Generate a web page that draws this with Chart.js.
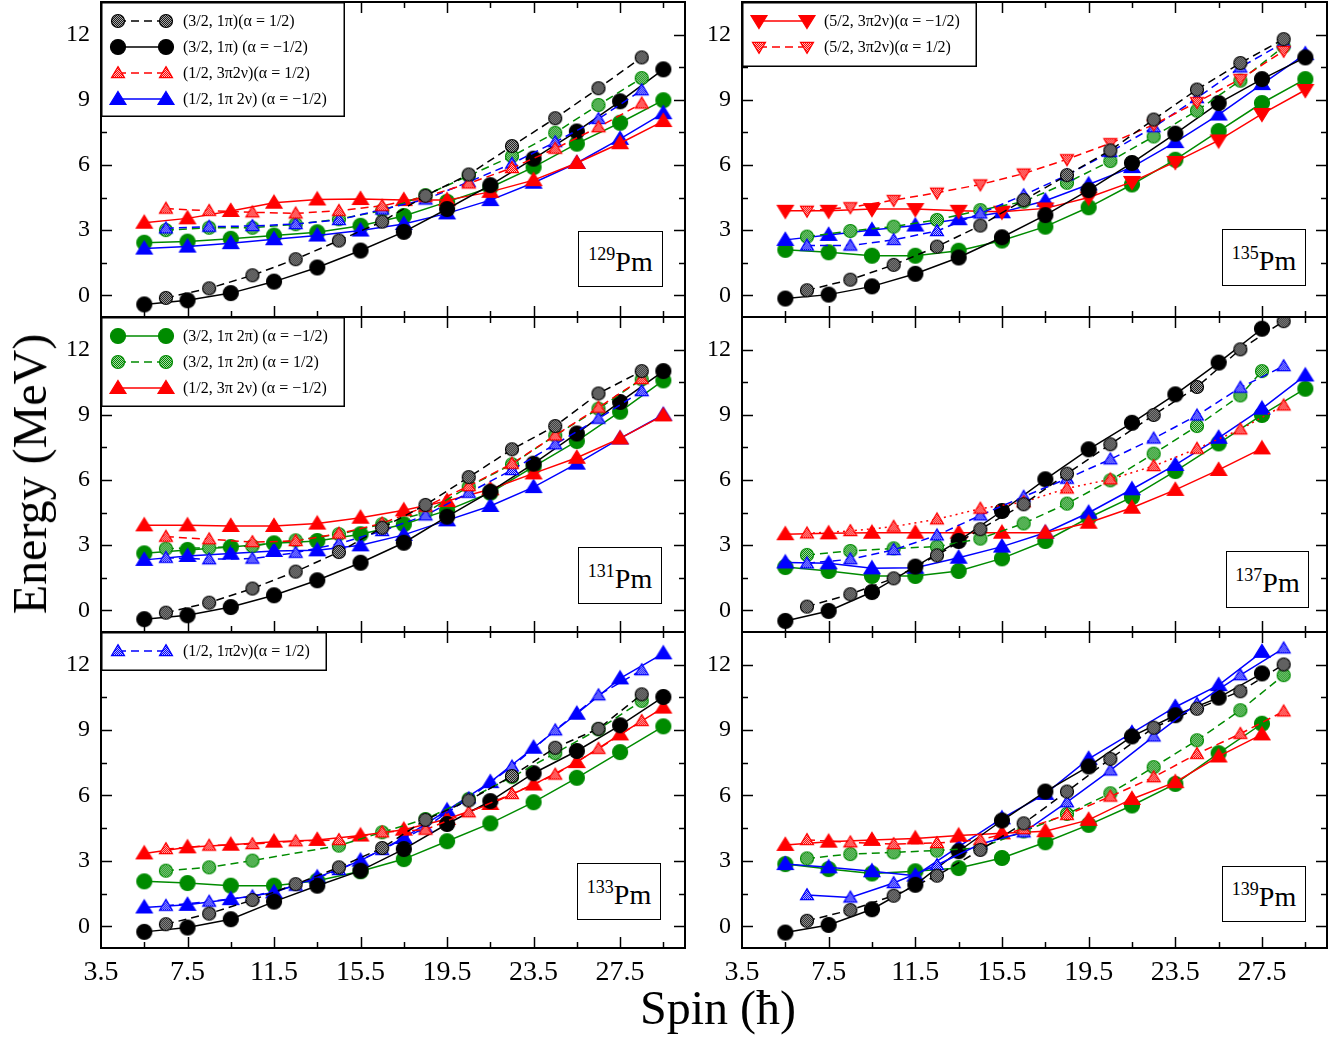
<!DOCTYPE html>
<html>
<head>
<meta charset="utf-8">
<script src="https://cdn.jsdelivr.net/npm/chart.js@4.4.1/dist/chart.umd.min.js"></script>
<style>
  html,body{margin:0;padding:0;background:#fff;}
  body{width:1342px;height:1037px;position:relative;overflow:hidden;font-family:"Liberation Serif","Times New Roman",serif;color:#000;}
  canvas.p{position:absolute;}
  .pm{position:absolute;border:1.5px solid #000;background:#fff;box-sizing:border-box;display:flex;align-items:center;justify-content:center;font-size:28px;line-height:1;}
  .pm sup{font-size:18px;position:relative;top:-3px;vertical-align:top;line-height:1;}
  .pm span{display:inline-block;padding-top:6px;}
  .title{position:absolute;font-size:48px;line-height:1;white-space:nowrap;}
</style>
</head>
<body>
<script>
// ---------------- DATA ----------------
const spinOdd  = [5.5, 7.5, 9.5, 11.5, 13.5, 15.5, 17.5, 19.5, 21.5, 23.5, 25.5, 27.5, 29.5];
const spinEven = [6.5, 8.5, 10.5, 12.5, 14.5, 16.5, 18.5, 20.5, 22.5, 24.5, 26.5, 28.5];
const spin137D = [6.5, 8.5, 10.5, 12.5, 14.5, 16.5, 18.5, 20.5, 22.5, 24.5, 26.5, 27.5];
const xTickLabels = [3.5, 7.5, 11.5, 15.5, 19.5, 23.5, 27.5];
const yTickLabels = [0, 3, 6, 9, 12];

// 129Pm
const pm129_A = [-0.12, 0.32, 0.92, 1.66, 2.52, 3.39, 4.58, 5.56, 6.87, 8.15, 9.53, 10.95];
const pm129_B = [-0.42, -0.23, 0.1, 0.63, 1.28, 2.06, 2.92, 3.97, 5.07, 6.29, 7.54, 8.93, 10.4];
const pm129_C = [2.42, 2.47, 2.6, 2.75, 2.9, 3.2, 3.65, 4.3, 4.96, 5.9, 6.98, 7.94, 8.98];
const pm129_D = [3.0, 3.11, 3.11, 3.27, 3.5, 3.9, 4.61, 5.5, 6.4, 7.48, 8.76, 10.0];
const pm129_E = [3.34, 3.54, 3.88, 4.26, 4.41, 4.43, 4.38, 4.38, 4.76, 5.3, 6.09, 7.0, 8.02];
const pm129_F = [3.99, 3.89, 3.82, 3.77, 3.89, 4.12, 4.53, 5.15, 5.86, 6.75, 7.74, 8.83];
const pm129_G = [2.15, 2.24, 2.4, 2.58, 2.75, 2.98, 3.28, 3.77, 4.38, 5.18, 6.09, 7.2, 8.38];
const pm129_H = [3.08, 3.16, 3.19, 3.28, 3.47, 3.95, 4.41, 5.22, 6.06, 7.05, 8.12, 9.44];

// 131Pm
const pm131_A = [-0.11, 0.35, 1.0, 1.78, 2.68, 3.8, 4.85, 6.13, 7.41, 8.48, 9.98, 11.01];
const pm131_B = [-0.41, -0.23, 0.15, 0.69, 1.38, 2.19, 3.11, 4.31, 5.46, 6.75, 8.14, 9.59, 11.01];
const pm131_C = [2.62, 2.78, 2.91, 3.08, 3.19, 3.5, 3.96, 4.6, 5.41, 6.61, 7.79, 9.14, 10.58];
const pm131_D = [2.84, 2.88, 2.96, 3.22, 3.5, 3.96, 4.49, 5.69, 6.72, 8.05, 9.28, 10.63];
const pm131_E = [3.91, 3.91, 3.88, 3.88, 3.99, 4.26, 4.6, 5.03, 5.57, 6.3, 7.02, 7.91, 8.97];
const pm131_F = [3.39, 3.27, 3.14, 3.19, 3.53, 4.0, 4.77, 5.72, 6.75, 8.05, 9.33, 10.65];
const pm131_G = [2.32, 2.5, 2.61, 2.73, 2.76, 2.99, 3.47, 4.14, 4.8, 5.67, 6.75, 7.91, 9.0];
const pm131_H = [2.42, 2.35, 2.38, 2.65, 3.07, 3.65, 4.37, 5.41, 6.46, 7.64, 8.82, 10.09];

// 133Pm
const pm133_A = [0.09, 0.58, 1.2, 1.93, 2.7, 3.59, 4.88, 5.77, 6.89, 8.19, 9.06, 10.64];
const pm133_B = [-0.26, -0.06, 0.32, 1.13, 1.86, 2.55, 3.54, 4.69, 5.74, 7.02, 8.04, 9.22, 10.52];
const pm133_C = [2.06, 1.98, 1.86, 1.86, 2.09, 2.52, 3.08, 3.9, 4.72, 5.69, 6.81, 7.99, 9.17];
const pm133_D = [2.55, 2.7, 3.01, null, 3.7, 4.31, 4.92, 5.84, 6.84, 7.94, 9.03, 10.34];
const pm133_E = [3.34, 3.62, 3.74, 3.88, 3.96, 4.16, 4.43, 4.92, 5.61, 6.5, 7.53, 8.8, 10.03];
const pm133_F = [3.54, 3.7, 3.77, 3.9, 3.96, 4.31, 4.43, 5.23, 6.07, 6.96, 8.14, 9.42];
const pm133_G = [0.86, 0.98, 1.24, 1.55, 2.24, 3.01, 4.05, 5.31, 6.61, 8.19, 9.75, 11.37, 12.52];
const pm133_H = [0.94, 1.13, 1.37, 1.86, 2.58, 3.5, 4.54, 5.87, 7.33, 8.99, 10.6, 11.75];

// 135Pm
const pm135_A = [0.23, 0.72, 1.4, 2.24, 3.21, 4.38, 5.53, 6.67, 8.09, 9.47, 10.69, 11.79];
const pm135_B = [-0.15, 0.03, 0.41, 0.99, 1.74, 2.67, 3.69, 4.84, 6.09, 7.44, 8.85, 9.95, 10.95];
const pm135_C = [2.09, 1.98, 1.82, 1.82, 2.05, 2.52, 3.16, 4.05, 5.1, 6.24, 7.56, 8.85, 9.95];
const pm135_D = [2.7, 2.96, 3.16, 3.47, 3.92, 4.31, 5.18, 6.18, 7.31, 8.5, 9.88, 11.45];
const pm135_E = [3.89, 3.89, 3.97, 3.97, 3.89, 3.85, 4.0, 4.5, 5.22, 6.14, 7.13, 8.35, 9.45];
const pm135_F = [3.89, 4.05, 4.38, 4.72, 5.1, 5.6, 6.26, 7.0, 7.85, 8.89, 9.95, 11.25];
const pm135_G = [2.55, 2.78, 3.0, 3.21, 3.5, 3.82, 4.35, 5.1, 5.9, 7.05, 8.32, 9.72, 11.1];
const pm135_H = [2.29, 2.29, 2.55, 2.96, 3.77, 4.61, 5.53, 6.6, 7.74, 9.08, 10.49, 11.63];

// 137Pm
const pm137_A = [0.17, 0.74, 1.47, 2.53, 3.73, 4.88, 6.29, 7.64, 8.99, 10.28, 12.01, 13.31];
const pm137_B = [-0.49, -0.03, 0.84, 2.01, 3.19, 4.57, 6.03, 7.41, 8.63, 9.94, 11.4, 12.96];
const pm137_C = [1.99, 1.81, 1.58, 1.58, 1.81, 2.39, 3.19, 4.26, 5.21, 6.41, 7.68, 8.99, 10.2];
const pm137_D = [2.55, 2.73, 2.85, 2.93, 3.3, 4.0, 4.91, 5.98, 7.21, 8.48, 9.89, 11.01];
const pm137_E = [3.5, 3.54, 3.57, 3.57, 3.57, 3.57, 3.57, 4.03, 4.72, 5.54, 6.46, 7.45];
const pm137_F = [3.54, 3.65, 3.85, 4.19, 4.68, 4.98, 5.61, 6.03, 6.64, 7.44, 8.33, 9.43];
const pm137_G = [2.2, 2.16, 1.93, 1.96, 2.42, 2.93, 3.57, 4.49, 5.57, 6.69, 7.94, 9.28, 10.81];
const pm137_H = [2.16, 2.35, 2.78, 3.45, 4.37, 5.23, 6.06, 6.95, 7.91, 8.97, 10.25, 11.24];

// 139Pm
const pm139_A = [0.25, 0.74, 1.4, 2.32, 3.5, 4.72, 6.18, 7.68, 9.11, 9.98, 10.78, 12.01];
const pm139_B = [-0.29, 0.06, 0.78, 1.9, 3.44, 4.85, 6.18, 7.33, 8.71, 9.68, 10.49, 11.6];
const pm139_C = [2.85, 2.62, 2.42, 2.52, 2.67, 3.13, 3.85, 4.65, 5.54, 6.53, 7.94, 9.29];
const pm139_D = [3.11, 3.31, 3.39, 3.47, 3.6, 4.35, 5.15, 6.1, 7.3, 8.53, 9.91, 11.52];
const pm139_E = [3.73, 3.88, 3.96, 4.03, 4.16, 4.26, 4.36, 4.88, 5.84, 6.61, 7.79, 8.8];
const pm139_F = [3.96, 3.85, 3.77, 3.82, 3.96, 4.46, 5.11, 5.95, 6.84, 7.91, 8.83, 9.86];
const pm139_G = [2.85, 2.7, 2.52, 2.32, 3.65, 4.95, 6.07, 7.68, 8.87, 10.06, 11.06, 12.59];
const pm139_H = [1.43, 1.32, 1.98, 2.81, 3.77, 4.31, 5.69, 7.15, 8.71, 10.21, 11.52, 12.75];

// Legend labels
const labelA  = "(3/2, 1\u03C0)(\u03B1 = 1/2)";
const labelB  = "(3/2, 1\u03C0) (\u03B1 = \u22121/2)";
const labelC  = "(3/2, 1\u03C0 2\u03C0) (\u03B1 = \u22121/2)";
const labelD  = "(3/2, 1\u03C0 2\u03C0) (\u03B1 = 1/2)";
const labelE  = "(1/2, 3\u03C0 2\u03BD) (\u03B1 = \u22121/2)";
const labelF  = "(1/2, 3\u03C02\u03BD)(\u03B1 = 1/2)";
const labelG  = "(1/2, 1\u03C0 2\u03BD) (\u03B1 = \u22121/2)";
const labelH  = "(1/2, 1\u03C02\u03BD)(\u03B1 = 1/2)";
const labelE5 = "(5/2, 3\u03C02\u03BD)(\u03B1 = \u22121/2)";
const labelF5 = "(5/2, 3\u03C02\u03BD)(\u03B1 = 1/2)";

// ---------------- STYLES ----------------
const GREEN = '#008b00', RED = '#ff0000', BLUE = '#0000ff', BLACK = '#000000';
const DASH = [8, 5], DOT = [2, 4];

function hatch(g, fg, bg) {
  const p = document.createElement('canvas'); p.width = 2; p.height = 2;
  const q = p.getContext('2d');
  q.fillStyle = bg; q.fillRect(0, 0, 2, 2);
  q.fillStyle = fg; q.fillRect(0, 0, 1, 1); q.fillRect(1, 1, 1, 1);
  return g.createPattern(p, 'repeat');
}
function marker(shape, color, hatchFg, hatchBg, stroke) {
  const S = 22, c = document.createElement('canvas'); c.width = S; c.height = S;
  const g = c.getContext('2d'), m = S / 2;
  const hatched = !!hatchBg;
  g.beginPath();
  if (shape === 'circle') {
    g.arc(m, m, hatched ? 6.5 : 7.5, 0, Math.PI * 2);
  } else {
    const w = hatched ? 13 : 16, h = hatched ? 11 : 13;
    const s = shape === 'down' ? -1 : 1;
    g.moveTo(m, m - s * h * 0.58);
    g.lineTo(m + w / 2, m + s * h * 0.42);
    g.lineTo(m - w / 2, m + s * h * 0.42);
    g.closePath();
  }
  g.fillStyle = hatched ? hatch(g, hatchFg, hatchBg) : color;
  g.fill();
  g.lineWidth = 1.2; g.strokeStyle = stroke || color; g.stroke();
  return c;
}
const styleOf = {};
function defStyle(key, label, line, dash, img) { styleOf[key] = { label, line, dash, img }; }
defStyle('A', labelA, BLACK, DASH, marker('circle', BLACK, '#1a1a1a', '#a8a8a8', BLACK));
defStyle('B', labelB, BLACK, [], marker('circle', BLACK));
defStyle('C', labelC, GREEN, [], marker('circle', GREEN));
defStyle('D', labelD, GREEN, DASH, marker('circle', GREEN, GREEN, '#a8d8a8', GREEN));
defStyle('E', labelE, RED, [], marker('up', RED));
defStyle('F', labelF, RED, DASH, marker('up', RED, RED, '#ffb8b8', RED));
defStyle('G', labelG, BLUE, [], marker('up', BLUE));
defStyle('H', labelH, BLUE, DASH, marker('up', BLUE, BLUE, '#b8b8ff', BLUE));
defStyle('E5', labelE5, RED, [], marker('down', RED));
defStyle('F5', labelF5, RED, DASH, marker('down', RED, RED, '#ffb8b8', RED));

function ds(key, xs, ys, dashOverride) {
  const st = styleOf[key];
  return {
    key, label: st.label,
    data: ys.map((v, i) => ({ x: xs[i], y: v })),
    borderColor: st.line, borderWidth: 1.5,
    borderDash: dashOverride || st.dash,
    pointStyle: st.img, pointRadius: 7, pointHoverRadius: 7,
    backgroundColor: st.line, tension: 0, spanGaps: true, fill: false
  };
}

// ---------------- PLUGIN ----------------
const framePlugin = {
  id: 'frame',
  afterDatasetsDraw(chart) {
    const { ctx, chartArea: a, scales: { x, y } } = chart;
    ctx.save();
    ctx.strokeStyle = '#000';
    ctx.setLineDash([]);
    ctx.lineWidth = 1.5;
    const ln = (x1, y1, x2, y2) => { ctx.beginPath(); ctx.moveTo(x1, y1); ctx.lineTo(x2, y2); ctx.stroke(); };
    const xStep = (xTickLabels[1] - xTickLabels[0]) / 2;
    for (let v = x.min, i = 0; v < x.max - 1e-6; v += xStep, i++) {
      if (i === 0) continue;
      const L = (i % 2 === 0) ? 11 : 6, px = Math.round(x.getPixelForValue(v)) + 0.5;
      ln(px, a.bottom, px, a.bottom - L); ln(px, a.top, px, a.top + L);
    }
    const yStep = (yTickLabels[1] - yTickLabels[0]) / 2;
    for (let v = yTickLabels[0], i = 0; v < y.max - 1e-6; v += yStep, i++) {
      const L = (i % 2 === 0) ? 11 : 6, py = Math.round(y.getPixelForValue(v)) + 0.5;
      ln(a.left, py, a.left + L, py); ln(a.right, py, a.right - L, py);
    }
    ctx.lineWidth = 2;
    ctx.strokeRect(a.left, a.top, a.right - a.left, a.bottom - a.top);
    ctx.restore();
  },
  afterDraw(chart) {
    const lg = chart.options.plugins.boxLegend;
    if (!lg || !lg.keys) return;
    const { ctx, chartArea: a } = chart;
    const x0 = a.left, y0 = a.top;
    ctx.save();
    ctx.fillStyle = '#fff';
    ctx.fillRect(x0, y0, lg.w, lg.h);
    ctx.strokeStyle = '#000'; ctx.lineWidth = 1.5; ctx.setLineDash([]);
    ctx.strokeRect(x0 + 0.75, y0 + 0.75, lg.w - 1.5, lg.h - 1.5);
    lg.keys.forEach((k, i) => {
      const d = chart.data.datasets.find(s => s.key === k);
      const cy = y0 + 19 + i * 26;
      ctx.strokeStyle = d.borderColor; ctx.lineWidth = 1.5; ctx.setLineDash(d.borderDash || []);
      ctx.beginPath(); ctx.moveTo(x0 + 17, cy); ctx.lineTo(x0 + 65, cy); ctx.stroke();
      ctx.setLineDash([]);
      const im = d.pointStyle;
      ctx.drawImage(im, x0 + 17 - im.width / 2, cy - im.height / 2);
      ctx.drawImage(im, x0 + 65 - im.width / 2, cy - im.height / 2);
      ctx.fillStyle = '#000';
      ctx.font = '16px "Liberation Serif", "Times New Roman", serif';
      ctx.textBaseline = 'middle'; ctx.textAlign = 'left';
      ctx.fillText(d.label, x0 + 82, cy + 1);
    });
    ctx.restore();
  }
};

// ---------------- PANELS ----------------
function panel(col, row, datasets, legend) {
  const cv = document.createElement('canvas');
  const L = col === 0 ? 0 : 700, W = col === 0 ? 700 : 642, yw = col === 0 ? 101 : 42;
  const T = [0, 315, 630][row], H = row === 2 ? 407 : 320, xh = row === 2 ? 89 : 3;
  cv.width = W; cv.height = H; cv.className = 'p';
  cv.style.left = L + 'px'; cv.style.top = T + 'px';
  document.body.appendChild(cv);
  const zeroPad = s => { s.paddingTop = 0; s.paddingBottom = 0; s.paddingLeft = 0; s.paddingRight = 0; };
  new Chart(cv, {
    type: 'line',
    data: { datasets },
    options: {
      responsive: false, animation: false, events: [],
      layout: { autoPadding: false, padding: { top: 2, right: 15, left: 0, bottom: 0 } },
      plugins: { legend: { display: false }, tooltip: { enabled: false }, boxLegend: legend || {} },
      scales: {
        x: {
          type: 'linear', min: 3.5, max: 30.5,
          grid: { display: false, drawTicks: false }, border: { display: false },
          afterBuildTicks: s => { s.ticks = xTickLabels.map(v => ({ value: v })); },
          ticks: {
            display: row === 2, autoSkip: false, maxRotation: 0, minRotation: 0, padding: 8, color: '#000',
            font: { family: '"Liberation Serif", "Times New Roman", serif', size: 28 },
            callback: v => Number(v).toFixed(1)
          },
          afterFit: s => { s.height = xh; zeroPad(s); }
        },
        y: {
          type: 'linear', min: -1, max: 13.5,
          grid: { display: false, drawTicks: false }, border: { display: false },
          afterBuildTicks: s => { s.ticks = yTickLabels.map(v => ({ value: v })); },
          ticks: {
            padding: 11, color: '#000', autoSkip: false,
            font: { family: '"Liberation Serif", "Times New Roman", serif', size: 24 },
            callback: v => String(v)
          },
          afterFit: s => { s.width = yw; zeroPad(s); }
        }
      }
    },
    plugins: [framePlugin]
  });
}

function series(A, B, C, D, E, F, G, H, o) {
  o = o || {};
  return [
    ds('A', spinEven, A),
    ds(o.Fkey || 'F', spinEven, F, o.Fdash),
    ds('H', spinEven, H, o.Hdash),
    ds('D', o.Dx || spinEven, D),
    ds('B', spinOdd, B),
    ds(o.Ekey || 'E', spinOdd, E),
    ds('G', spinOdd, G),
    ds('C', spinOdd, C)
  ];
}

panel(0, 0, series(pm129_A, pm129_B, pm129_C, pm129_D, pm129_E, pm129_F, pm129_G, pm129_H),
      { keys: ['A', 'B', 'F', 'G'], w: 244, h: 115 });
panel(0, 1, series(pm131_A, pm131_B, pm131_C, pm131_D, pm131_E, pm131_F, pm131_G, pm131_H),
      { keys: ['C', 'D', 'E'], w: 244, h: 90 });
panel(0, 2, series(pm133_A, pm133_B, pm133_C, pm133_D, pm133_E, pm133_F, pm133_G, pm133_H),
      { keys: ['H'], w: 226, h: 39 });
panel(1, 0, series(pm135_A, pm135_B, pm135_C, pm135_D, pm135_E, pm135_F, pm135_G, pm135_H, { Ekey: 'E5', Fkey: 'F5' }),
      { keys: ['E5', 'F5'], w: 235, h: 65 });
panel(1, 1, series(pm137_A, pm137_B, pm137_C, pm137_D, pm137_E, pm137_F, pm137_G, pm137_H, { Fdash: DOT, Dx: spin137D }), null);
panel(1, 2, series(pm139_A, pm139_B, pm139_C, pm139_D, pm139_E, pm139_F, pm139_G, pm139_H, { Hdash: [0, 0] }), null);
</script>

<div class="pm" style="left:578px;top:231px;width:85px;height:56px;"><span><sup>129</sup>Pm</span></div>
<div class="pm" style="left:578px;top:547px;width:84px;height:57px;"><span><sup>131</sup>Pm</span></div>
<div class="pm" style="left:577px;top:863px;width:84px;height:57px;"><span><sup>133</sup>Pm</span></div>
<div class="pm" style="left:1222px;top:229px;width:84px;height:57px;"><span><sup>135</sup>Pm</span></div>
<div class="pm" style="left:1226px;top:551px;width:83px;height:57px;"><span><sup>137</sup>Pm</span></div>
<div class="pm" style="left:1222px;top:866px;width:84px;height:56px;"><span><sup>139</sup>Pm</span></div>

<div class="title" style="left:30px;top:474px;transform:translate(-50%,-50%) rotate(-90deg);">Energy (MeV)</div>
<div class="title" style="left:718px;top:1008px;transform:translate(-50%,-50%);">Spin (ħ)</div>
</body>
</html>
